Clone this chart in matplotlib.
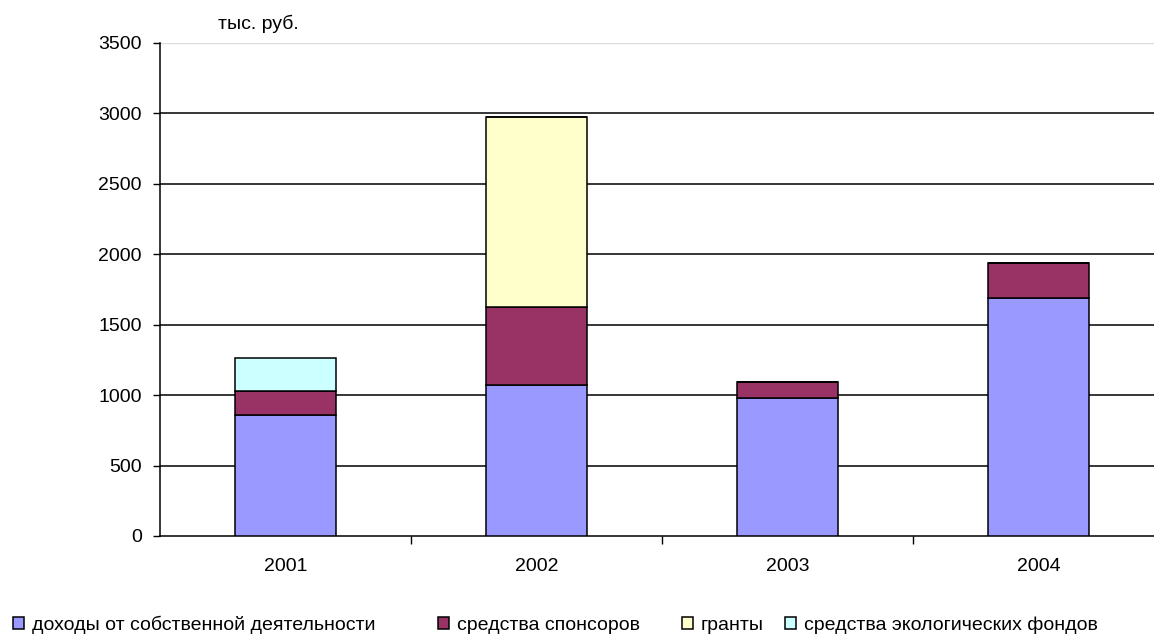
import numpy as np
import matplotlib.pyplot as plt

plt.rcParams['font.family'] = ['Liberation Sans', 'DejaVu Sans']

# данные
years = ['2001', '2002', '2003', '2004']
own = [860, 1070, 980, 1690]
sponsors = [170, 555, 115, 250]
grants = [0, 1350, 0, 0]
eco = [235, 0, 0, 0]

names = ['доходы от собственной деятельности', 'средства спонсоров',
         'гранты', 'средства экологических фондов']
colors = ['#9999FF', '#993366', '#FFFFCC', '#CCFFFF']

W, H = 1154, 637
fs = 14
fig = plt.figure(figsize=(W / 100, H / 100), dpi=100)
ax = fig.add_axes([160 / W, 101 / H, 1004 / W, 493 / H])

x = np.arange(len(years))
bottom = np.zeros(len(years))
handles = []
for vals, name, col in zip([own, sponsors, grants, eco], names, colors):
    vals = np.array(vals, dtype=float)
    b = ax.bar(x, vals, 0.4, bottom=bottom, color=col, edgecolor='black',
               linewidth=1.1, label=name, zorder=3)
    handles.append(b)
    bottom += vals

ax.set_xlim(-0.5, 3.5)
ax.set_ylim(0, 3500)
ax.set_yticks(np.arange(0, 3501, 500))
for yv in np.arange(500, 3001, 500):
    ax.axhline(yv, color='black', lw=1.1, zorder=1)
ax.axhline(3500, color='#dddddd', lw=1.0, zorder=1)

ax.set_xticks(x)
ax.set_xticklabels(years, fontsize=fs)
ax.set_xticks([0.5, 1.5, 2.5, 3.5], minor=True)
ax.tick_params(axis='x', which='major', length=0, pad=16)
ax.tick_params(axis='x', which='minor', length=6, width=1, direction='out')
ax.tick_params(axis='y', length=5, width=1, labelsize=fs, pad=8)

for s in ['top', 'right']:
    ax.spines[s].set_visible(False)
ax.spines['left'].set_linewidth(1.1)
ax.spines['bottom'].set_linewidth(1.1)

fig.text(218 / W, 1 - 24 / H, 'тыс. руб.', fontsize=fs, va='center')

# легенда: каждый элемент отдельно, как в исходнике
leg_x = [13, 438, 682, 785]
for h, name, lx in zip(handles, names, leg_x):
    fig.legend([h], [name], loc='center left',
               bbox_to_anchor=(lx / W, 1 - 625 / H),
               frameon=False, fontsize=fs, handlelength=0.57,
               handleheight=0.57, handletextpad=0.4,
               borderpad=0, borderaxespad=0)

plt.savefig('out.png', dpi=100)
